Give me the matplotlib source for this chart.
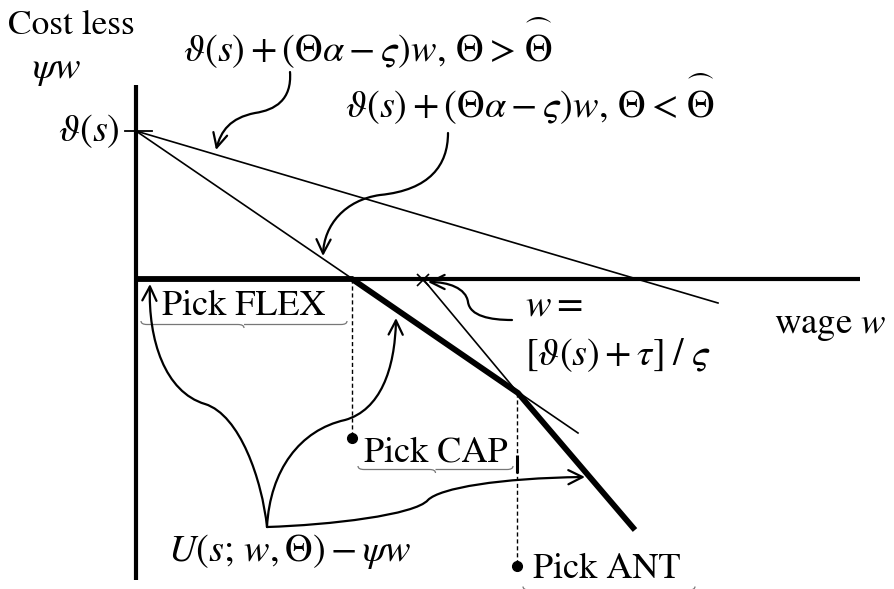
import matplotlib
matplotlib.use("Agg")
import matplotlib.pyplot as plt
from matplotlib.path import Path
from matplotlib.patches import FancyArrowPatch, PathPatch

plt.rcParams['mathtext.fontset'] = 'stix'
plt.rcParams['font.family'] = ['STIXGeneral', 'DejaVu Serif']

# ---- schematic geometry (pixel-like diagram units, y grows downward) ----
axis_x = [136, 136]
axis_vy = [85, 580]
axis_hx = [136, 860]
axis_hy = [279, 279]
intercept = [136, 131]
tick_x = [125, 152]

line_hi_x = [136, 718]
line_hi_y = [131, 303]
line_lo_x = [136, 578]
line_lo_y = [131, 433]
line_ant_x = [423, 518]
line_ant_y = [279, 393]

envelope_x = [138, 352, 518, 635]
envelope_y = [279, 279, 393, 530]

cross_pt = [423, 280]
drop_x = [352, 517]
drop_top = [279, 393]
drop_dot = [438, 566]

brace_x0 = [141, 358, 523]
brace_x1 = [347, 513, 695]
brace_y = [321, 466, 586.5]

# labels: (text, x, baseline y, size, ha)
texts = [
    ("Cost less", 8, 34, 25.5, 'left'),
    (r"$\psi w$", 32, 78, 27.5, 'left'),
    (r"$\vartheta(s)+(\Theta\alpha-\varsigma)w,\,\Theta>\overset{\frown}{\Theta}$", 183, 62, 27.5, 'left'),
    (r"$\vartheta(s)+(\Theta\alpha-\varsigma)w,\,\Theta<\overset{\frown}{\Theta}$", 345, 118, 27.5, 'left'),
    (r"$\vartheta(s)$", 120, 141, 27.5, 'right'),
    ("Pick FLEX", 162, 315, 26, 'left'),
    ("Pick CAP", 364, 462, 26, 'left'),
    ("Pick ANT", 533, 578, 26, 'left'),
    (r"wage $w$", 774, 333, 26.5, 'left'),
    (r"$w =$", 525, 315, 27.5, 'left'),
    (r"$[\vartheta(s)+\tau]\;/\;\varsigma$", 525, 365, 27.5, 'left'),
    (r"$U(s;\,w,\Theta)-\psi w$", 168, 561, 27.5, 'left'),
]

# curved annotation arrows as cubic bezier control points
arrows = [
    [(290, 72), (292, 100), (275, 110), (255, 113), (230, 118), (221, 131), (216, 150)],
    [(448, 133), (448, 165), (430, 190), (380, 195), (345, 200), (324, 225), (323, 256)],
    [(512, 320), (490, 320), (470, 316), (468, 302), (466, 288), (448, 282), (428, 282)],
    [(267, 527), (262, 480), (240, 415), (205, 404), (165, 392), (148, 340), (150, 284)],
    [(267, 527), (270, 470), (300, 430), (345, 420), (380, 410), (395, 370), (396, 318)],
    [(267, 527), (330, 525), (415, 515), (428, 500), (440, 488), (500, 478), (585, 477)],
]

fig = plt.figure(figsize=(8.95, 5.89), dpi=100)
ax = fig.add_axes([0, 0, 1, 1])
ax.set_xlim(0, 895)
ax.set_ylim(589, 0)
ax.axis('off')

# axes
ax.plot(axis_x, axis_vy, color='black', lw=3.0, solid_capstyle='butt')
ax.plot(axis_hx, axis_hy, color='black', lw=3.0, solid_capstyle='butt')
ax.plot(tick_x, [intercept[1]] * 2, color='black', lw=1.3)

# lines
ax.plot(line_hi_x, line_hi_y, color='black', lw=1.2)
ax.plot(line_lo_x, line_lo_y, color='black', lw=1.2)
ax.plot(line_ant_x, line_ant_y, color='black', lw=1.2)
ax.plot(envelope_x, envelope_y, color='black', lw=4.2, solid_joinstyle='miter', solid_capstyle='butt')

ax.plot(cross_pt[0], cross_pt[1], marker='x', ms=9, mew=1.2, color='black')

# dashed drops
for x, yt, yd in zip(drop_x, drop_top, drop_dot):
    ax.plot([x, x], [yt, yd], color='black', lw=1.0, ls=(0, (3, 2)))
    ax.plot(x, yd, marker='o', ms=7, color='black')
ax.plot([517, 517], [455, 473], color='black', lw=2.2, solid_capstyle='butt')

# braces
def brace(x0, x1, y, h=3.5, r=6):
    xm = (x0 + x1) / 2
    verts = [(x0, y), (x0, y + h), (x0 + r, y + h),
             (xm - r, y + h),
             (xm, y + h), (xm, y + 2 * h),
             (xm, y + h), (xm + r, y + h),
             (x1 - r, y + h),
             (x1, y + h), (x1, y)]
    codes = [Path.MOVETO, Path.CURVE3, Path.CURVE3,
             Path.LINETO,
             Path.CURVE3, Path.CURVE3,
             Path.MOVETO, Path.CURVE3,
             Path.LINETO,
             Path.CURVE3, Path.CURVE3]
    ax.add_patch(PathPatch(Path(verts, codes), fill=False, ec='#777777', lw=0.9))

for a, b, y in zip(brace_x0, brace_x1, brace_y):
    brace(a, b, y)

# arrows
for pts in arrows:
    codes = [Path.MOVETO] + [Path.CURVE4] * (len(pts) - 1)
    p = FancyArrowPatch(path=Path(pts, codes), arrowstyle='->,head_length=6,head_width=3',
                        lw=1.6, color='black', mutation_scale=1.7, shrinkA=0, shrinkB=0)
    ax.add_patch(p)

for s, x, y, fs, ha in texts:
    ax.text(x, y, s, fontsize=fs, ha=ha, va='baseline', color='black')

fig.savefig('out.png', dpi=100)
